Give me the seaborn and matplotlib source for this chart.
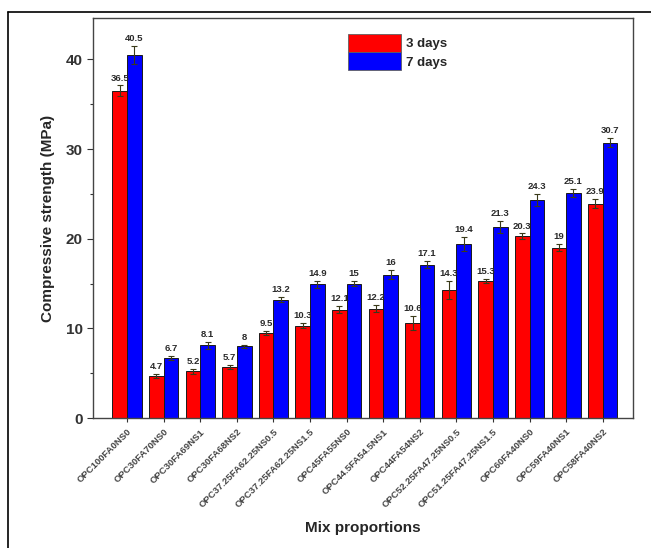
import numpy as np
import pandas as pd
import matplotlib
matplotlib.use("Agg")
import matplotlib.pyplot as plt
from matplotlib.lines import Line2D
from matplotlib.patches import Patch
from matplotlib.ticker import MultipleLocator
import seaborn as sns

mixes = ["OPC100FA0NS0", "OPC30FA70NS0", "OPC30FA69NS1", "OPC30FA68NS2",
         "OPC37.25FA62.25NS0.5", "OPC37.25FA62.25NS1.5", "OPC45FA55NS0",
         "OPC44.5FA54.5NS1", "OPC44FA54NS2", "OPC52.25FA47.25NS0.5",
         "OPC51.25FA47.25NS1.5", "OPC60FA40NS0", "OPC59FA40NS1", "OPC58FA40NS2"]
day3 = [36.5, 4.7, 5.2, 5.7, 9.5, 10.3, 12.1, 12.2, 10.6, 14.3, 15.3, 20.3, 19, 23.9]
day7 = [40.5, 6.7, 8.1, 8, 13.2, 14.9, 15, 16, 17.1, 19.4, 21.3, 24.3, 25.1, 30.7]
err3 = [0.6, 0.2, 0.3, 0.2, 0.2, 0.3, 0.4, 0.4, 0.8, 1.0, 0.2, 0.3, 0.4, 0.5]
err7 = [1.0, 0.2, 0.4, 0.2, 0.3, 0.4, 0.3, 0.5, 0.4, 0.8, 0.7, 0.7, 0.5, 0.5]
ages = ["3 days", "7 days"]
colors = ["#ff0000", "#0000ff"]

df = pd.DataFrame({
    "mix": mixes * 2,
    "age": [ages[0]] * len(mixes) + [ages[1]] * len(mixes),
    "strength": day3 + day7,
})
errs = err3 + err7

sns.set_theme(style="ticks")
plt.rcParams["font.family"] = ["Liberation Sans", "DejaVu Sans"]

fig, ax = plt.subplots(figsize=(6.51, 5.48), dpi=100)
fig.subplots_adjust(left=0.143, right=0.972, top=0.967, bottom=0.237)

sns.barplot(data=df, x="mix", y="strength", hue="age", palette=colors,
            saturation=1, width=0.8, errorbar=None, edgecolor="#1a1a1a",
            linewidth=0.7, legend=False, ax=ax)

ec = "#3a3a1a"
bars = [b for cont in list(ax.containers) for b in cont]
for k, bar in enumerate(bars):
    xc = bar.get_x() + bar.get_width() / 2
    h = bar.get_height()
    e = errs[k]
    ax.errorbar(xc, h, yerr=e, fmt="none", ecolor=ec, elinewidth=0.8,
                capsize=2.5, capthick=0.8)
    v = df["strength"].iloc[k]
    ax.annotate(f"{v:g}", (xc, h + e), xytext=(0, 2), textcoords="offset points",
                ha="center", va="bottom", fontsize=6.8, fontweight="bold",
                color="#2a2a2a")

ax.set_ylim(0, 44.6)
ax.set_xlim(-0.93, 13.82)
ax.yaxis.set_major_locator(MultipleLocator(10))
ax.yaxis.set_minor_locator(MultipleLocator(5))
ax.tick_params(axis="y", which="major", length=4, width=0.8, labelsize=11, colors="#333333")
ax.tick_params(axis="y", which="minor", length=2.5, width=0.8, colors="#333333")
ax.tick_params(axis="x", length=3, width=0.8, labelsize=6.8, colors="#333333")
for lab in ax.get_yticklabels():
    lab.set_fontweight("bold")
ax.set_xticks(range(len(mixes)))
ax.set_xticklabels(mixes, rotation=45, ha="right", rotation_mode="anchor",
                   fontweight="bold", color="#444444")
for s in ax.spines.values():
    s.set_color("#444444")
    s.set_linewidth(1.0)

ax.set_ylabel("Compressive strength (MPa)", fontsize=11, fontweight="bold", labelpad=8)
ax.set_xlabel("Mix proportions", fontsize=11, fontweight="bold", labelpad=8)

handles = [Patch(facecolor=c, edgecolor="#606060", linewidth=0.6) for c in colors]
ax.legend(handles, ages, loc="upper left", bbox_to_anchor=(0.45, 0.99), frameon=False,
          handlelength=4.0, handleheight=1.7, handletextpad=0.4, labelspacing=0.05,
          prop={"weight": "bold", "size": 9.5})

fig.add_artist(Line2D([0.0123, 0.0123], [0, 0.978], color="black", lw=1.2))
fig.add_artist(Line2D([0.0123, 1], [0.978, 0.978], color="black", lw=1.2))

fig.savefig("out.png", dpi=100)
